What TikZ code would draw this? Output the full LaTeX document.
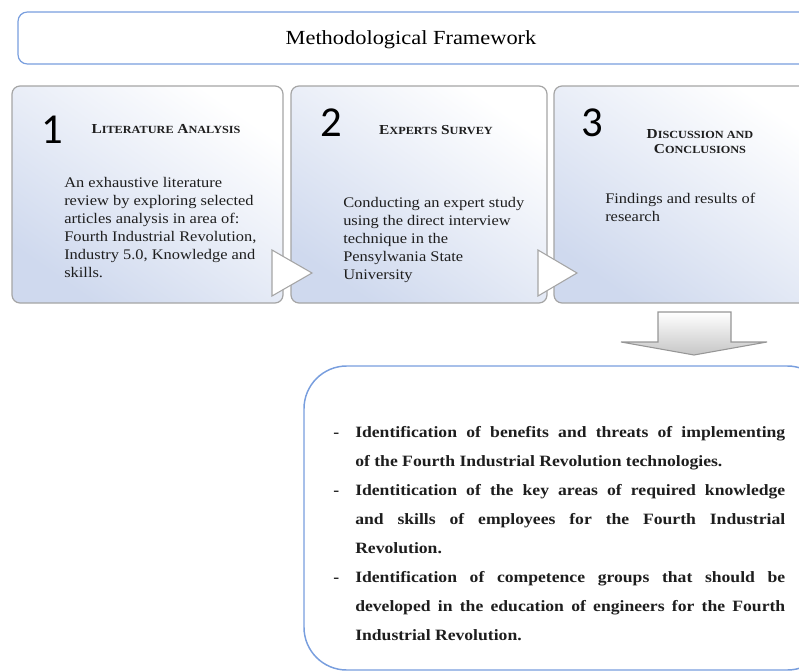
\documentclass[tikz,border=0pt]{standalone}
\usepackage{fontspec}
\setmainfont{Liberation Serif}[FakeStretch=1.12]
\newfontfamily\numfont{Carlito}
\newcommand\myfsc[2]{{\fontsize{10.3}{12}\selectfont #1}{\fontsize{8.2}{10}\selectfont #2}}
\definecolor{boxgray}{RGB}{165,165,165}
\definecolor{boxblue}{RGB}{207,217,238}
\definecolor{frameblue}{RGB}{120,158,222}
\definecolor{arrowgray}{RGB}{150,150,150}
\definecolor{txt}{RGB}{30,30,30}
\begin{document}
\begin{tikzpicture}[x=0.75pt,y=-0.75pt,
  stepbox/.style={draw=boxgray, line width=0.9pt, rounded corners=6pt,
    top color=white, bottom color=boxblue, shading angle=-35},
  framebox/.style={draw=frameblue, line width=0.9pt, fill=white},
  tri/.style={draw=boxgray, line width=0.8pt, fill=white},
  numtxt/.style={font=\numfont\fontsize{32}{32}\selectfont, anchor=base, inner sep=0, text=black},
  headtxt/.style={font=\bfseries, inner sep=0, text=txt, align=center},
  bodytxt/.style={font=\fontsize{11}{13.5}\selectfont, inner sep=0, anchor=north west, align=left, text=txt}]
\useasboundingbox (0,0) rectangle (799,671);
\clip (0,0) rectangle (799,671);
% title box
\draw[framebox, rounded corners=7pt] (18,12) rectangle (815,64);
\node[font=\fontsize{15}{18}\selectfont, anchor=base, inner sep=0, text=black] (title) at (411,44) {Methodological Framework};
% step boxes
\shade[stepbox] (12,86) rectangle (283,303);
\shade[stepbox] (291,86) rectangle (547,303);
\shade[stepbox] (554,86) rectangle (820,303);
% numbers
\node[numtxt] (n1) at (52,143) {1};
\node[numtxt] (n2) at (331,136) {2};
\node[numtxt] (n3) at (592,136) {3};
% headings
\node[headtxt, anchor=base] (h1) at (166,133) {\myfsc{L}{ITERATURE} \myfsc{A}{NALYSIS}};
\node[headtxt, anchor=base] (h2) at (436,134) {\myfsc{E}{XPERTS} \myfsc{S}{URVEY}};
\node[headtxt, anchor=north, font=\bfseries\fontsize{10}{11.25}\selectfont] (h3) at (700,129) {\myfsc{D}{ISCUSSION AND}\\\myfsc{C}{ONCLUSIONS}};
% body texts
\node[bodytxt] (t1) at (64,177) {An exhaustive literature\\review by exploring selected\\articles analysis in area of:\\Fourth Industrial Revolution,\\Industry 5.0, Knowledge and\\skills.};
\node[bodytxt] (t2) at (343,197) {Conducting an expert study\\using the direct interview\\technique in the\\Pensylwania State\\University};
\node[bodytxt] (t3) at (605,193) {Findings and results of\\research};
% triangles between boxes
\draw[tri] (272,250) -- (312,273) -- (272,296) -- cycle;
\draw[tri] (538,250) -- (577,273) -- (538,296) -- cycle;
% down arrow
\shade[draw=arrowgray, line width=0.8pt, top color=white, bottom color=gray!45]
  (658,312) -- (731,312) -- (731,342) -- (767,342) -- (694,355) -- (621,342) -- (658,342) -- cycle;
% result box
\draw[draw=frameblue, line width=1.1pt, fill=white, rounded corners=32pt] (304,366) rectangle (830,670);
\node[anchor=north west, inner sep=0, text width=339pt, align=justify, text=txt,
  font=\bfseries\fontsize{11.8}{21.8}\selectfont] (list) at (333,426) {%
\noindent\hangindent=16.5pt\hangafter=1\makebox[16.5pt][l]{-}Identification of benefits and threats of implementing\linebreak of the Fourth Industrial Revolution technologies.\par
\noindent\hangindent=16.5pt\hangafter=1\makebox[16.5pt][l]{-}Identitication of the key areas of required knowledge\linebreak and skills of employees for the Fourth Industrial\linebreak Revolution.\par
\noindent\hangindent=16.5pt\hangafter=1\makebox[16.5pt][l]{-}Identification of competence groups that should be\linebreak developed in the education of engineers for the Fourth\linebreak Industrial Revolution.\par};
\end{tikzpicture}
\end{document}
